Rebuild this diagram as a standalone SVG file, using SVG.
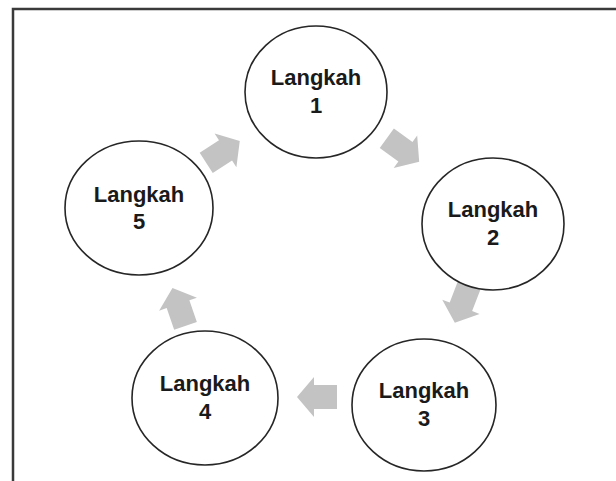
<svg xmlns="http://www.w3.org/2000/svg" width="616" height="481" viewBox="0 0 616 481">
<defs>
<style>
.node ellipse{fill:#fff;stroke:#262626;stroke-width:1.6}
.node text{font-family:"Liberation Sans",Arial,sans-serif;font-weight:bold;font-size:22px;fill:#1a1a1a;text-anchor:middle}
.arr{fill:#c3c3c3}
</style>
<path id="blk" d="M-20,-12 L3,-12 L3,-20 L20,0 L3,20 L3,12 L-20,12 Z"/>
</defs>
<rect width="616" height="481" fill="#fff"/>
<path d="M13,481 V9 H616" fill="none" stroke="#3a3a3a" stroke-width="2.5"/>
<g id="connectors">
<use href="#blk" class="arr" transform="translate(403,150) rotate(36)"/>
<use href="#blk" class="arr" transform="translate(462,304) rotate(111)"/>
<use href="#blk" class="arr" transform="translate(317,397) rotate(180)"/>
<use href="#blk" class="arr" transform="translate(179,307) rotate(-109)"/>
<use href="#blk" class="arr" transform="translate(223,152) rotate(-33)"/>
</g>
<g id="n1" class="node"><ellipse cx="316" cy="92" rx="71" ry="66"/><text x="316" y="85">Langkah</text><text x="316" y="113">1</text></g>
<g id="n2" class="node"><ellipse cx="493" cy="224" rx="71" ry="66"/><text x="493" y="217">Langkah</text><text x="493" y="245">2</text></g>
<g id="n3" class="node"><ellipse cx="424" cy="405" rx="72" ry="66"/><text x="424" y="398">Langkah</text><text x="424" y="426">3</text></g>
<g id="n4" class="node"><ellipse cx="205" cy="398" rx="73" ry="67"/><text x="205" y="391">Langkah</text><text x="205" y="419">4</text></g>
<g id="n5" class="node"><ellipse cx="139" cy="208" rx="74" ry="67"/><text x="139" y="202">Langkah</text><text x="139" y="229">5</text></g>
</svg>
